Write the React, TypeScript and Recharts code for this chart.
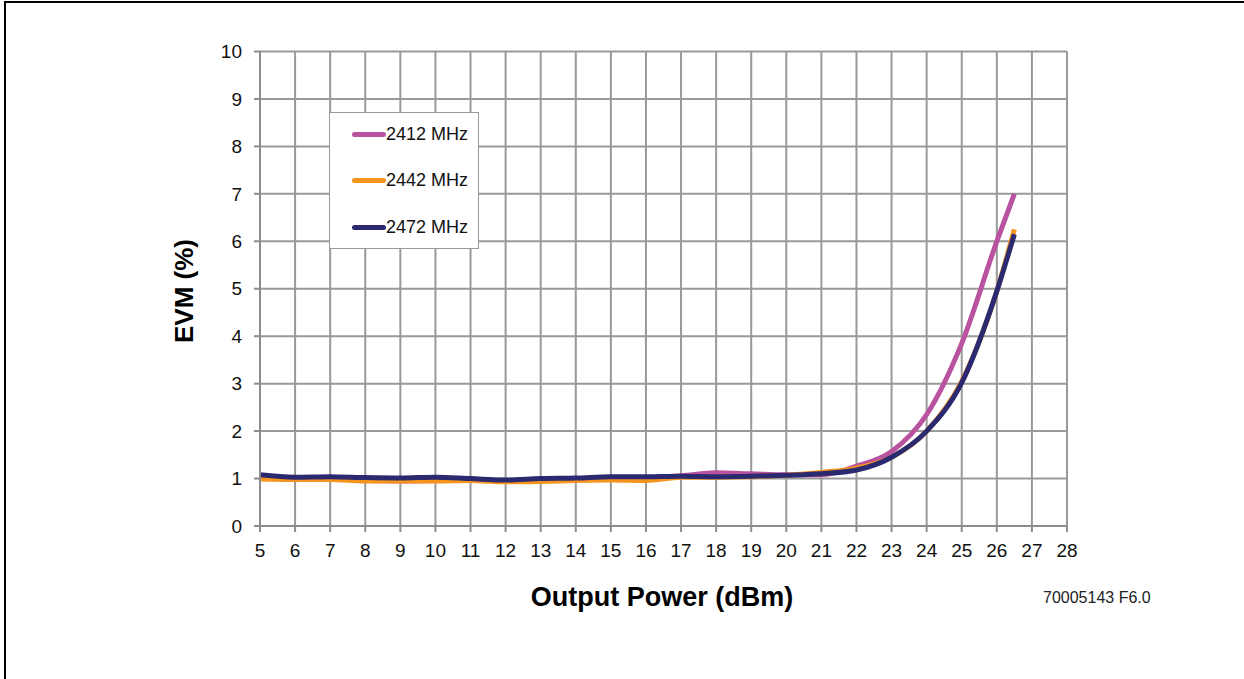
import React from "react";
import {
  LineChart,
  Line,
  XAxis,
  YAxis,
  CartesianGrid,
  Legend,
} from "recharts";

const powerDbm = [5, 6, 7, 8, 9, 10, 11, 12, 13, 14, 15, 16, 17, 18, 19, 20, 21, 22, 23, 24, 25, 26, 26.5];
const evm2412 = [1.03, 1.0, 1.0, 0.96, 0.95, 0.96, 0.98, 0.96, 0.98, 1.0, 1.02, 1.02, 1.06, 1.12, 1.1, 1.08, 1.08, 1.26, 1.57, 2.35, 3.85, 6.0, 7.0];
const evm2442 = [0.99, 0.98, 0.98, 0.95, 0.95, 0.95, 0.96, 0.93, 0.94, 0.96, 0.97, 0.96, 1.03, 1.03, 1.04, 1.07, 1.13, 1.22, 1.45, 2.0, 3.05, 4.95, 6.25];
const evm2472 = [1.08, 1.03, 1.04, 1.02, 1.01, 1.03, 1.0, 0.97, 1.0, 1.01, 1.04, 1.04, 1.05, 1.04, 1.05, 1.07, 1.1, 1.18, 1.45, 2.0, 3.02, 4.95, 6.15];

const xTicks = [5, 6, 7, 8, 9, 10, 11, 12, 13, 14, 15, 16, 17, 18, 19, 20, 21, 22, 23, 24, 25, 26, 27, 28];
const yTicks = [0, 1, 2, 3, 4, 5, 6, 7, 8, 9, 10];

const seriesNames = ["2412 MHz", "2442 MHz", "2472 MHz"];
const seriesColors = ["#b9529f", "#f7941d", "#2b2a70"];

const rows = powerDbm.map((p, i) => ({
  power: p,
  a: evm2412[i],
  b: evm2442[i],
  c: evm2472[i],
}));

const FONT = "'Liberation Sans', Arial, sans-serif";

function LegendBox(props: any) {
  const items = props.payload || [];
  return (
    <div
      style={{
        position: "relative",
        width: 150,
        height: 137,
        border: "1.5px solid #9a9a9a",
        background: "#fff",
        boxSizing: "border-box",
      }}
    >
      {items.map((it: any, i: number) => (
        <div
          key={it.value}
          style={{
            position: "absolute",
            left: 0,
            top: 21 + i * 46.7 - 12,
            height: 24,
            display: "flex",
            alignItems: "center",
          }}
        >
          <div
            style={{
              marginLeft: 22,
              width: 34,
              height: 5,
              borderRadius: 3,
              background: it.color,
            }}
          />
          <span style={{ fontSize: 18, color: "#111", fontFamily: FONT }}>{it.value}</span>
        </div>
      ))}
    </div>
  );
}

export default function App() {
  return (
    <div
      style={{
        position: "absolute",
        left: 0,
        top: 0,
        width: 1244,
        height: 679,
        background: "#fff",
        overflow: "hidden",
        fontFamily: FONT,
      }}
    >
      <div
        style={{
          position: "absolute",
          left: 4,
          top: 1,
          width: 1260,
          height: 700,
          borderTop: "2px solid #000",
          borderLeft: "2px solid #000",
        }}
      />
      <LineChart
        width={1244}
        height={679}
        data={rows}
        margin={{ top: 51.5, right: 177, bottom: 0, left: 0 }}
        style={{ position: "absolute", left: 0, top: 0 }}
      >
        <CartesianGrid stroke="#999" strokeWidth={2} />
        <XAxis
          type="number"
          dataKey="power"
          domain={[5, 28]}
          ticks={xTicks}
          interval={0}
          height={153}
          stroke="#8c8c8c"
          strokeWidth={2}
          tickSize={6}
          tickMargin={12}
          tick={{ fontSize: 19, fill: "#111", fontFamily: FONT }}
        />
        <YAxis
          type="number"
          domain={[0, 10]}
          ticks={yTicks}
          interval={0}
          width={260}
          stroke="#8c8c8c"
          strokeWidth={2}
          tickSize={6}
          tickMargin={12}
          tick={{ fontSize: 19, fill: "#111", fontFamily: FONT }}
        />
        <Legend
          layout="vertical"
          align="center"
          verticalAlign="middle"
          content={<LegendBox />}
          wrapperStyle={{ left: 329, top: 112, width: 150, height: 137 }}
        />
        <Line
          name={seriesNames[0]}
          dataKey="a"
          type="monotone"
          stroke={seriesColors[0]}
          strokeWidth={5}
          dot={false}
          isAnimationActive={false}
        />
        <Line
          name={seriesNames[1]}
          dataKey="b"
          type="monotone"
          stroke={seriesColors[1]}
          strokeWidth={5}
          dot={false}
          isAnimationActive={false}
        />
        <Line
          name={seriesNames[2]}
          dataKey="c"
          type="monotone"
          stroke={seriesColors[2]}
          strokeWidth={5}
          dot={false}
          isAnimationActive={false}
        />
      </LineChart>
      <div
        style={{
          position: "absolute",
          left: 184,
          top: 291,
          transform: "translate(-50%, -50%) rotate(-90deg)",
          fontSize: 26,
          fontWeight: "bold",
          whiteSpace: "nowrap",
          color: "#000",
        }}
      >
        EVM (%)
      </div>
      <div
        style={{
          position: "absolute",
          left: 662,
          top: 597,
          transform: "translate(-50%, -50%)",
          fontSize: 27,
          fontWeight: "bold",
          whiteSpace: "nowrap",
          color: "#000",
        }}
      >
        Output Power (dBm)
      </div>
      <div
        style={{
          position: "absolute",
          left: 1043,
          top: 589,
          fontSize: 16,
          lineHeight: "18px",
          whiteSpace: "nowrap",
          color: "#222",
        }}
      >
        70005143 F6.0
      </div>
    </div>
  );
}
